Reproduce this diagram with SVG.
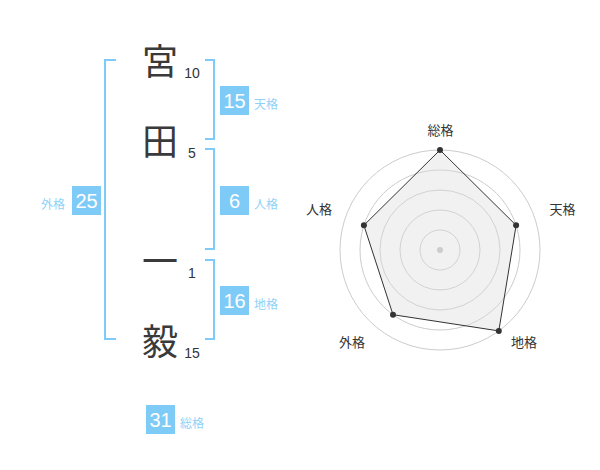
<svg xmlns="http://www.w3.org/2000/svg" width="600" height="470" viewBox="0 0 600 470">
<style>
.br{fill:none;stroke:#7fcbf7;stroke-width:2}
.ch{font-family:"Noto Sans CJK JP","Noto Sans CJK SC",sans-serif;font-size:36px;fill:#3a3a3a;text-anchor:middle}
.st{font-family:"Liberation Sans",Arial,sans-serif;font-size:14px;fill:#333;text-anchor:middle}
.bx{fill:#7fcbf7}
.bn{font-family:"Liberation Sans",Arial,sans-serif;font-size:20px;fill:#fff;text-anchor:middle}
.bl{font-family:"Noto Sans CJK JP","Noto Sans CJK SC",sans-serif;font-size:12px;fill:#8fd2f7}
.rl{font-family:"Noto Sans CJK JP","Noto Sans CJK SC",sans-serif;font-size:13px;fill:#333;text-anchor:middle}
.ring{fill:none;stroke:#ccc;stroke-width:1}
.pt{fill:#333}
</style>
<rect width="600" height="470" fill="#fff"/>
<g id="connectors">
<path class="br" d="M116,60H105V339H116"/>
<path class="br" d="M205,60H214V139H205"/>
<path class="br" d="M205,149H214V249H205"/>
<path class="br" d="M205,260H214V339H205"/>
</g>
<g id="char-1"><text class="ch" x="160" y="75">宮</text><text class="st" x="192" y="78">10</text></g>
<g id="char-2"><text class="ch" x="160" y="155">田</text><text class="st" x="192" y="158">5</text></g>
<g id="char-3"><text class="ch" x="160" y="275">一</text><text class="st" x="192" y="278">1</text></g>
<g id="char-4"><text class="ch" x="160" y="355">毅</text><text class="st" x="192" y="358">15</text></g>
<g id="tenkaku"><rect class="bx" x="220" y="86" width="29" height="29"/><text class="bn" x="234.5" y="107.5">15</text><text class="bl" x="254" y="108.5">天格</text></g>
<g id="jinkaku"><rect class="bx" x="220" y="186" width="29" height="29"/><text class="bn" x="234.5" y="207.5">6</text><text class="bl" x="254" y="208.5">人格</text></g>
<g id="chikaku"><rect class="bx" x="220" y="286" width="29" height="29"/><text class="bn" x="234.5" y="307.5">16</text><text class="bl" x="254" y="308.5">地格</text></g>
<g id="gaikaku"><rect class="bx" x="72" y="186" width="29" height="29"/><text class="bn" x="86.5" y="207.5">25</text><text class="bl" x="41" y="208.5">外格</text></g>
<g id="soukaku"><rect class="bx" x="146" y="405" width="29" height="29"/><text class="bn" x="160.5" y="426.5">31</text><text class="bl" x="180" y="427.5">総格</text></g>
<g id="radar">
<circle class="ring" cx="440" cy="250" r="20"/>
<circle class="ring" cx="440" cy="250" r="40"/>
<circle class="ring" cx="440" cy="250" r="60"/>
<circle class="ring" cx="440" cy="250" r="80"/>
<circle class="ring" cx="440" cy="250" r="100"/>
<polygon points="440,150 516.1,225.3 498.8,330.9 393,314.7 363.9,225.3" fill="rgba(220,220,220,0.4)" stroke="#333" stroke-width="1"/>
<circle cx="440" cy="250" r="3" fill="#ccc"/>
<circle class="pt" cx="440" cy="150" r="3"/>
<circle class="pt" cx="516.1" cy="225.3" r="3"/>
<circle class="pt" cx="498.8" cy="330.9" r="3"/>
<circle class="pt" cx="393" cy="314.7" r="3"/>
<circle class="pt" cx="363.9" cy="225.3" r="3"/>
<text class="rl" x="440.5" y="135">総格</text>
<text class="rl" x="562.5" y="213.5">天格</text>
<text class="rl" x="524" y="347">地格</text>
<text class="rl" x="352" y="347">外格</text>
<text class="rl" x="319" y="213.5">人格</text>
</g>
</svg>
